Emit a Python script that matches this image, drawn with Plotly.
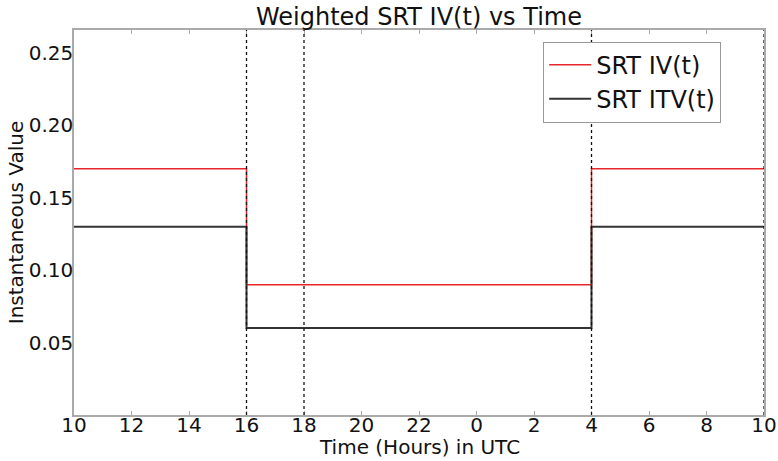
import plotly.graph_objects as go

# Hours elapsed since 10:00 UTC, and the corresponding clock labels
tick_pos = [0, 2, 4, 6, 8, 10, 12, 14, 16, 18, 20, 22, 24]
tick_labels = ["10", "12", "14", "16", "18", "20", "22", "0", "2", "4", "6", "8", "10"]

step_x = [0, 6, 18, 24]
srt_iv = [0.17, 0.09, 0.17, 0.17]
srt_itv = [0.13, 0.06, 0.13, 0.13]

y_ticks = [0.05, 0.10, 0.15, 0.20, 0.25]
y_tick_labels = ["0.05", "0.10", "0.15", "0.20", "0.25"]

vlines = [6, 8, 18, 24]

fig = go.Figure()
fig.add_trace(go.Scatter(x=step_x, y=srt_iv, mode="lines", line_shape="hv",
                         line=dict(color="#e8262a", width=1.5), name="SRT IV(t)"))
fig.add_trace(go.Scatter(x=step_x, y=srt_itv, mode="lines", line_shape="hv",
                         line=dict(color="#333333", width=2), name="SRT ITV(t)"))

for v in vlines:
    fig.add_shape(type="line", xref="x", yref="paper", x0=v, x1=v, y0=0, y1=1,
                  line=dict(color="#111111", width=1.3, dash="dot"))

fig.add_annotation(text="Time (Hours) in UTC", xref="paper", yref="paper",
                   x=0.5, y=-0.083, xanchor="center", yanchor="middle",
                   showarrow=False, font=dict(size=20))

fig.update_layout(
    width=778, height=461,
    margin=dict(l=74, r=14, t=30, b=46),
    paper_bgcolor="white", plot_bgcolor="white",
    font=dict(family="DejaVu Sans", color="#111111", size=20),
    title=dict(text="Weighted SRT IV(t) vs Time", x=0.5385, xanchor="center",
               y=0.963, yanchor="middle", font=dict(size=24)),
    legend=dict(x=0.68, y=0.97, xanchor="left", yanchor="top",
                bordercolor="#999999", borderwidth=1, bgcolor="white",
                font=dict(size=24), itemwidth=42, tracegroupgap=0),
    showlegend=True,
)
fig.update_xaxes(range=[0, 24], tickvals=tick_pos, ticktext=tick_labels,
                 showgrid=False, zeroline=False, showline=True, linecolor="#aaaaaa",
                 linewidth=1.5, mirror="ticks", ticks="inside", ticklen=4,
                 tickcolor="#aaaaaa", tickfont=dict(size=20), automargin=False,
                 ticklabelstandoff=-9)
fig.update_yaxes(range=[0, 0.2658], tickvals=y_ticks, ticktext=y_tick_labels,
                 showgrid=False, zeroline=False, showline=True, linecolor="#aaaaaa",
                 linewidth=1.5, mirror=True, ticks="",
                 tickfont=dict(size=20), automargin=False,
                 ticklabelstandoff=-5,
                 title=dict(text="Instantaneous Value", standoff=0, font=dict(size=20)))

fig.write_html("out.html", config={"displayModeBar": False},
               post_script="document.body.style.margin='0';")
